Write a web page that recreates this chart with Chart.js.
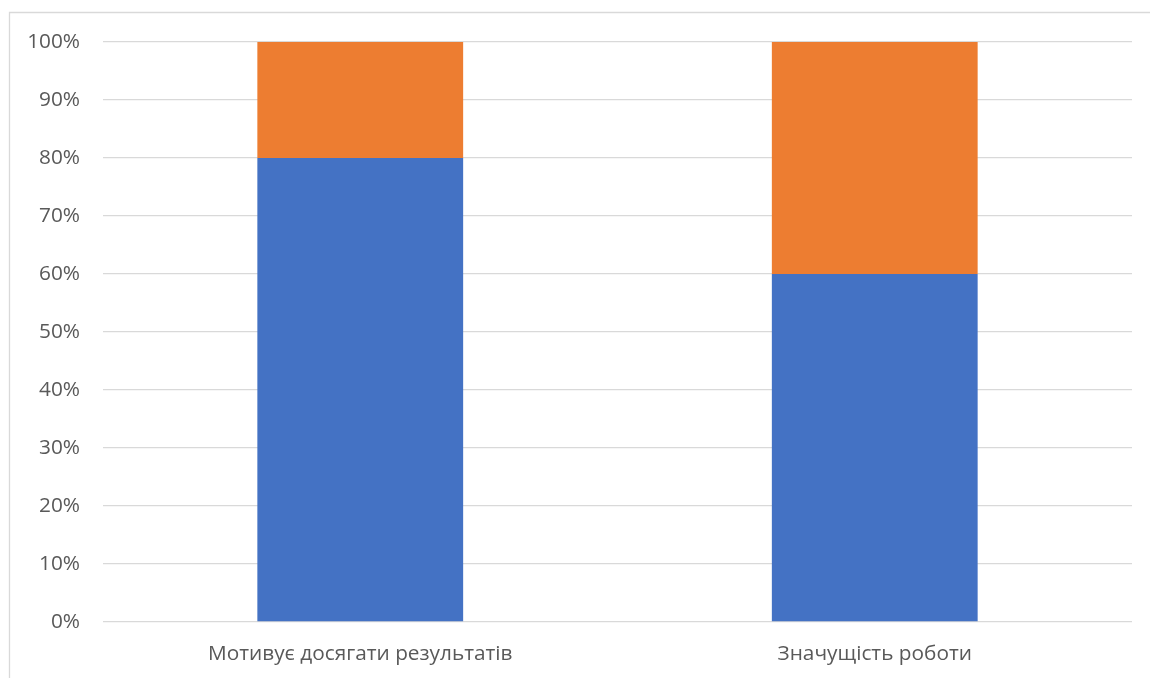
<!DOCTYPE html>
<html>
<head>
<meta charset="utf-8">
<script src="https://cdn.jsdelivr.net/npm/chart.js@4/dist/chart.umd.min.js"></script>
<style>
  html, body { margin: 0; padding: 0; background: #ffffff; }
  #wrap { position: relative; width: 1150px; height: 678px; }
</style>
</head>
<body>
<div id="wrap"><canvas id="chart" width="1150" height="678"></canvas></div>
<script>
// Categories and stacked shares (percent of total)
const categories = ['Мотивує досягати результатів', 'Значущість роботи'];
const seriesBlue = [80, 60];
const seriesOrange = [20, 40];
const yTickValues = [0, 10, 20, 30, 40, 50, 60, 70, 80, 90, 100];

const FONT = '"Open Sans", "Noto Sans", "DejaVu Sans", sans-serif';

// Thin outer frame around the chart object
const framePlugin = {
  id: 'frame',
  beforeDraw(chart) {
    const ctx = chart.ctx;
    ctx.save();
    ctx.strokeStyle = '#d9d9d9';
    ctx.lineWidth = 1.3;
    ctx.beginPath();
    ctx.moveTo(9.5, chart.height + 5);
    ctx.lineTo(9.5, 12.5);
    ctx.lineTo(chart.width + 5, 12.5);
    ctx.stroke();
    ctx.restore();
  }
};

new Chart(document.getElementById('chart'), {
  type: 'bar',
  data: {
    labels: categories,
    datasets: [
      { label: 'Series 1', data: seriesBlue, backgroundColor: '#4472C4', stack: 's' },
      { label: 'Series 2', data: seriesOrange, backgroundColor: '#ED7D31', stack: 's' }
    ]
  },
  options: {
    responsive: false,
    animation: false,
    devicePixelRatio: 1,
    layout: { padding: { left: 0, right: 18, top: 42, bottom: 0 } },
    plugins: {
      legend: { display: false },
      tooltip: { enabled: false }
    },
    datasets: {
      bar: { categoryPercentage: 0.8, barPercentage: 0.5 }
    },
    scales: {
      x: {
        stacked: true,
        grid: { display: false, drawTicks: false },
        border: { display: false },
        ticks: {
          color: '#595959',
          font: { family: FONT, size: 20.8 },
          padding: 20,
          maxRotation: 0
        },
        afterFit(scale) { scale.height = 56; }
      },
      y: {
        stacked: true,
        min: 0,
        max: 100,
        afterBuildTicks(scale) {
          scale.ticks = yTickValues.map(v => ({ value: v }));
        },
        grid: { color: '#d9d9d9', lineWidth: 1.3, drawTicks: false },
        border: { display: false },
        ticks: {
          color: '#595959',
          font: { family: FONT, size: 20.8 },
          padding: 23,
          callback: v => v + '%'
        },
        afterFit(scale) { scale.width = 103; }
      }
    }
  },
  plugins: [framePlugin]
});
</script>
</body>
</html>
